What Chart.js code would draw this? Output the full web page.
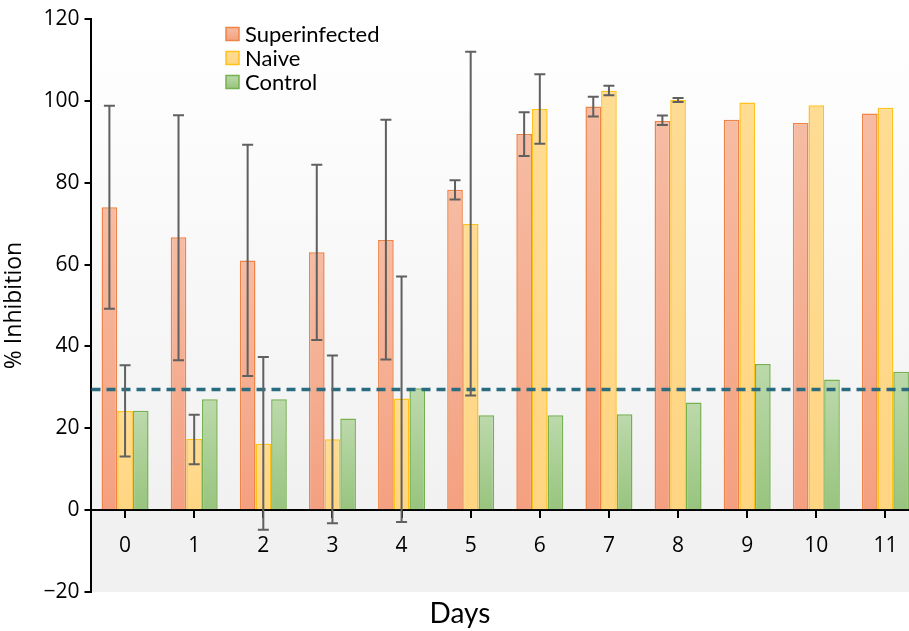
<!DOCTYPE html>
<html>
<head>
<meta charset="utf-8">
<script src="https://cdn.jsdelivr.net/npm/chart.js@4/dist/chart.umd.min.js"></script>
<style>
  html, body { margin: 0; padding: 0; background: #ffffff; overflow: hidden; width: 909px; height: 631px; }
  canvas { display: block; }
</style>
</head>
<body>
<canvas id="c" width="921" height="631"></canvas>
<script>
// ---- data ----
const days = ['0', '1', '2', '3', '4', '5', '6', '7', '8', '9', '10', '11'];
const superinfected = [74, 66.7, 61, 63, 66, 78.3, 91.9, 98.6, 95.1, 95.4, 94.6, 96.9];
const naive = [24.2, 17.4, 16.2, 17.3, 27.3, 69.9, 98.0, 102.5, 100.2, 99.6, 98.9, 98.3];
const control = [24.3, 27.1, 27.1, 22.4, 29.8, 23.2, 23.2, 23.4, 26.3, 35.7, 31.9, 33.8];
const superHigh = [98.8, 96.5, 89.3, 84.4, 95.4, 80.6, 97.2, 101.0, 96.4, null, null, null];
const superLow = [49.2, 36.6, 32.8, 41.6, 36.8, 75.9, 86.5, 96.2, 94.1, null, null, null];
const naiveHigh = [35.4, 23.3, 37.4, 37.8, 57.1, 112.0, 106.5, 103.7, 100.7, null, null, null];
const naiveLow = [13.1, 11.2, -4.8, -3.2, -2.9, 28.0, 89.5, 101.4, 99.7, null, null, null];
const threshold = 29.5;
const yMin = -20, yMax = 120, yStep = 20;
const seriesLabels = ['Superinfected', 'Naive', 'Control'];

// ---- styles ----
const fillTop = ['#f6bca3', '#ffdc94', '#bcd9ab'];
const fillBottom = ['#f4a080', '#ffd582', '#98c47e'];
const borders = ['#ef8446', '#ffc21a', '#76b04f'];

function barFill(i) {
  return (ctx) => {
    const chart = ctx.chart;
    const ys = chart.scales && chart.scales.y;
    if (!ys || ctx.type !== 'data' || !ctx.parsed) return fillTop[i];
    const top = ys.getPixelForValue(ctx.parsed.y);
    const base = ys.getPixelForValue(0);
    if (!isFinite(top) || !isFinite(base) || Math.abs(base - top) < 1) return fillTop[i];
    const g = chart.ctx.createLinearGradient(0, top, 0, base);
    g.addColorStop(0, fillTop[i]);
    g.addColorStop(1, fillBottom[i]);
    return g;
  };
}

const bgPlugin = {
  id: 'bg',
  beforeDraw(chart) {
    const { ctx, chartArea: a, scales } = chart;
    const y0 = scales.y.getPixelForValue(0);
    const g = ctx.createLinearGradient(0, a.top, 0, y0);
    g.addColorStop(0, '#ffffff');
    g.addColorStop(1, '#f1f1f1');
    ctx.save();
    ctx.fillStyle = g;
    ctx.fillRect(a.left, a.top, a.right - a.left, y0 - a.top);
    ctx.fillStyle = '#f1f1f1';
    ctx.fillRect(a.left, y0, a.right - a.left, a.bottom - y0);
    ctx.restore();
  }
};

const overlayPlugin = {
  id: 'overlay',
  afterDatasetsDraw(chart) {
    const { ctx, chartArea: a, scales } = chart;
    const yt = scales.y.getPixelForValue(threshold);
    ctx.save();
    ctx.strokeStyle = '#2a6b80';
    ctx.lineWidth = 3.5;
    ctx.setLineDash([9, 6]);
    ctx.beginPath();
    ctx.moveTo(a.left + 1, yt);
    ctx.lineTo(a.right, yt);
    ctx.stroke();
    ctx.restore();
    const errs = [[superHigh, superLow], [naiveHigh, naiveLow]];
    ctx.save();
    ctx.strokeStyle = '#606060';
    ctx.lineWidth = 2;
    errs.forEach(([hi, lo], di) => {
      const meta = chart.getDatasetMeta(di);
      meta.data.forEach((bar, j) => {
        if (hi[j] == null || lo[j] == null) return;
        const x = bar.x;
        const yh = scales.y.getPixelForValue(hi[j]);
        const yl = scales.y.getPixelForValue(lo[j]);
        ctx.beginPath();
        ctx.moveTo(x, yh); ctx.lineTo(x, yl);
        ctx.moveTo(x - 5.5, yh); ctx.lineTo(x + 5.5, yh);
        ctx.moveTo(x - 5.5, yl); ctx.lineTo(x + 5.5, yl);
        ctx.stroke();
      });
    });
    ctx.restore();
  },
  afterDraw(chart) {
    const { ctx } = chart;
    ctx.save();
    ctx.font = '22px Lato';
    ctx.textBaseline = 'middle';
    ctx.textAlign = 'left';
    chart.data.datasets.forEach((ds, i) => {
      const cy = 34 + i * 24;
      const bx = 226, bs = 13;
      const g = ctx.createLinearGradient(0, cy - bs / 2, 0, cy + bs / 2);
      g.addColorStop(0, fillTop[i]);
      g.addColorStop(1, fillBottom[i]);
      ctx.fillStyle = g;
      ctx.fillRect(bx, cy - bs / 2, bs, bs);
      ctx.strokeStyle = borders[i];
      ctx.lineWidth = 1.5;
      ctx.strokeRect(bx, cy - bs / 2, bs, bs);
      ctx.fillStyle = '#000000';
      ctx.fillText(ds.label, bx + bs + 6, cy + 1);
    });
    ctx.restore();
  }
};

function draw() {
  new Chart(document.getElementById('c'), {
    type: 'bar',
    data: {
      labels: days,
      datasets: [superinfected, naive, control].map((d, i) => ({
        label: seriesLabels[i],
        data: d,
        backgroundColor: barFill(i),
        borderColor: borders[i],
        borderWidth: 1.5,
        categoryPercentage: 0.68,
        barPercentage: 1.0
      }))
    },
    options: {
      responsive: false,
      animation: false,
      devicePixelRatio: 1,
      layout: { padding: { top: 19, right: 1, left: 0, bottom: 0 } },
      plugins: {
        legend: { display: false },
        tooltip: { enabled: false },
        title: {
          display: true,
          text: 'Days',
          position: 'bottom',
          color: '#000000',
          font: { family: 'Lato', size: 28, weight: 'normal', lineHeight: 1.0 },
          padding: { top: 8, bottom: 3 }
        }
      },
      scales: {
        x: {
          position: { y: 0 },
          grid: { offset: false, drawOnChartArea: false, drawTicks: true, tickLength: 7, color: '#000000', lineWidth: 2 },
          border: { display: true, color: '#000000', width: 2 },
          ticks: { color: '#000000', font: { family: 'Open Sans', size: 21 }, padding: 16 }
        },
        y: {
          min: yMin,
          max: yMax,
          afterFit(scale) { scale.width = 90.5; },
          grid: { drawOnChartArea: false, drawTicks: true, tickLength: 6, color: '#000000', lineWidth: 2 },
          border: { display: true, color: '#000000', width: 2 },
          ticks: {
            stepSize: yStep,
            color: '#000000',
            font: { family: 'Open Sans', size: 21 },
            padding: 5,
            callback: (v) => (v < 0 ? '\u2212' + Math.abs(v) : String(v))
          },
          title: {
            display: true,
            text: '% Inhibition',
            color: '#000000',
            font: { family: 'Open Sans', size: 23 },
            padding: { top: 1, bottom: 0 }
          }
        }
      }
    },
    plugins: [bgPlugin, overlayPlugin]
  });
}

Promise.all([
  document.fonts.load('21px "Open Sans"'),
  document.fonts.load('22px Lato'),
  document.fonts.load('28px Lato')
]).then(draw, draw);
</script>
</body>
</html>
